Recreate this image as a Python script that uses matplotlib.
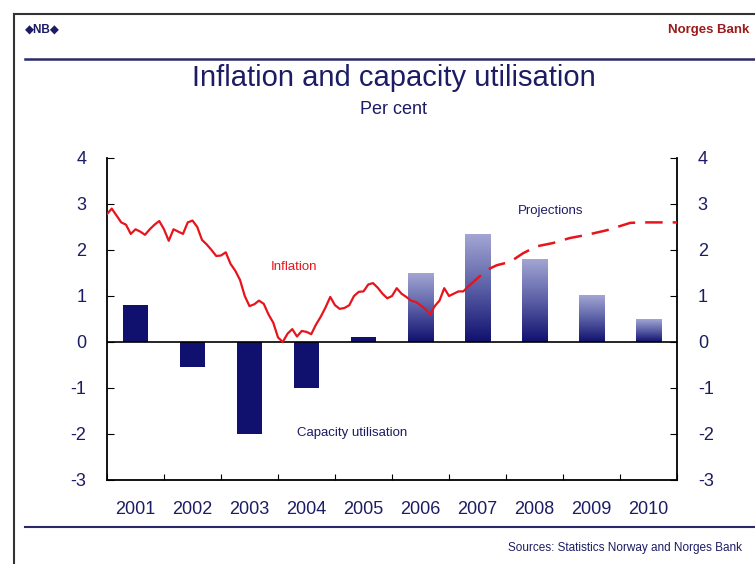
import numpy as np
import matplotlib
matplotlib.use("Agg")
import matplotlib.pyplot as plt
from matplotlib.lines import Line2D
from matplotlib.colors import LinearSegmentedColormap

plt.rcParams['font.family'] = ['Liberation Sans', 'DejaVu Sans']
plt.rcParams['axes.unicode_minus'] = False

# ---- data ----
years = [2001, 2002, 2003, 2004, 2005, 2006, 2007, 2008, 2009, 2010]
capacity = [0.8, -0.55, -2.0, -1.0, 0.1, 1.5, 2.33, 1.8, 1.02, 0.5]
projected_from = 2006  # bars from this year are projections

# monthly inflation, Jan 2001 - May 2007
inflation = [2.78, 2.9, 2.75, 2.6, 2.55, 2.35, 2.45, 2.4, 2.33, 2.45, 2.55, 2.63,
             2.45, 2.2, 2.45, 2.4, 2.35, 2.6, 2.64, 2.5, 2.22, 2.12, 2.0, 1.87,
             1.88, 1.95, 1.7, 1.55, 1.35, 1.0, 0.78, 0.82, 0.9, 0.83, 0.6, 0.42,
             0.1, 0.0, 0.18, 0.28, 0.12, 0.24, 0.22, 0.17, 0.38, 0.55, 0.75, 0.98,
             0.8, 0.72, 0.74, 0.8, 1.0, 1.09, 1.1, 1.25, 1.28, 1.18, 1.05, 0.95,
             1.0, 1.17, 1.05, 0.98, 0.9, 0.87, 0.8, 0.72, 0.6, 0.78, 0.9, 1.17,
             1.0, 1.05, 1.1, 1.1, 1.2]
inflation_dates = [2001 + m / 12 for m in range(len(inflation))]

proj_dates = [2007.33, 2007.67, 2007.84, 2008.07, 2008.3, 2008.54, 2008.82,
              2009.12, 2009.42, 2009.77, 2010.18, 2010.4, 2011.0]
proj_values = [1.2, 1.57, 1.67, 1.74, 1.93, 2.08, 2.15, 2.26, 2.33, 2.43, 2.59, 2.6, 2.6]

NAVY = "#10106e"
TEXT = "#1c1c64"
RED = "#e8141c"

fig = plt.figure(figsize=(7.55, 5.64), dpi=100)
ax = fig.add_axes([107 / 755, 1 - 480 / 564, 570 / 755, 322 / 564])

# ---- bars ----
x_pos = np.array(years) + 0.5
width = 0.45
grad_cmap = LinearSegmentedColormap.from_list("grad", [NAVY, "#5a5fa6", "#a3a6d3"])
grad = np.linspace(0, 1, 256).reshape(-1, 1)
for x, v, yr in zip(x_pos, capacity, years):
    if yr < projected_from:
        ax.bar(x, v, width=width, color=NAVY, zorder=2)
    else:
        ax.imshow(grad, extent=[x - width / 2, x + width / 2, 0, v], origin="lower",
                  cmap=grad_cmap, aspect="auto", zorder=2)

ax.axhline(0, color="black", lw=1.2, zorder=3)

# ---- inflation ----
ax.plot(inflation_dates, inflation, color=RED, lw=1.6, zorder=4)
ax.plot(proj_dates, proj_values, color=RED, lw=1.8, dashes=(7, 4), zorder=4)

# ---- axes format ----
ax.set_xlim(2001, 2011)
ax.set_ylim(-3, 4)
ax.set_xticks(range(2001, 2012))
ax.set_xticklabels([])
ax.set_xticks(x_pos, minor=True)
ax.set_xticklabels([str(y) for y in years], minor=True)
ax.tick_params(axis="x", which="major", direction="in", length=4, color="black")
ax.tick_params(axis="x", which="minor", length=0, pad=15, labelsize=13, labelcolor=TEXT)
ax.set_yticks(range(-3, 5))
ax.tick_params(axis="y", direction="in", length=5, labelsize=13, labelcolor=TEXT,
               left=True, right=True, labelleft=True, labelright=True, pad=15)
ax.spines["top"].set_visible(False)
for s in ["left", "right", "bottom"]:
    ax.spines[s].set_linewidth(1.3)

# annotations
ax.text(2004.28, 1.62, "Inflation", color=RED, fontsize=9.5, ha="center", va="center")
ax.text(2008.78, 2.85, "Projections", color=TEXT, fontsize=9.5, ha="center", va="center")
ax.text(2005.3, -1.98, "Capacity utilisation", color=TEXT, fontsize=9.5, ha="center", va="center")

# ---- titles and slide frame ----
fig.text(394 / 755, 1 - 78 / 564, "Inflation and capacity utilisation", color=TEXT,
         fontsize=21, ha="center", va="center")
fig.text(394 / 755, 1 - 109 / 564, "Per cent", color=TEXT, fontsize=13,
         ha="center", va="center")
fig.text(25 / 755, 1 - 30 / 564, "\u25c6NB\u25c6", color=TEXT, fontsize=8.5,
         fontweight="bold", ha="left", va="center")
fig.text(668 / 755, 1 - 30 / 564, "Norges Bank", color="#9a1c1c", fontsize=9.5,
         fontweight="bold", ha="left", va="center")
fig.text(742 / 755, 1 - 548 / 564, "Sources: Statistics Norway and Norges Bank",
         color=TEXT, fontsize=8.5, ha="right", va="center")

fig.add_artist(Line2D([14 / 755, 1], [1 - 14 / 564] * 2, color="#333333", lw=1.5))
fig.add_artist(Line2D([14 / 755] * 2, [0, 1 - 14 / 564], color="#333333", lw=1.5))
fig.add_artist(Line2D([25 / 755, 1], [1 - 59 / 564] * 2, color="#2a2a6a", lw=1.8))
fig.add_artist(Line2D([25 / 755, 1], [1 - 527 / 564] * 2, color="#2a2a6a", lw=1.5))

plt.savefig("out.png", dpi=100)
